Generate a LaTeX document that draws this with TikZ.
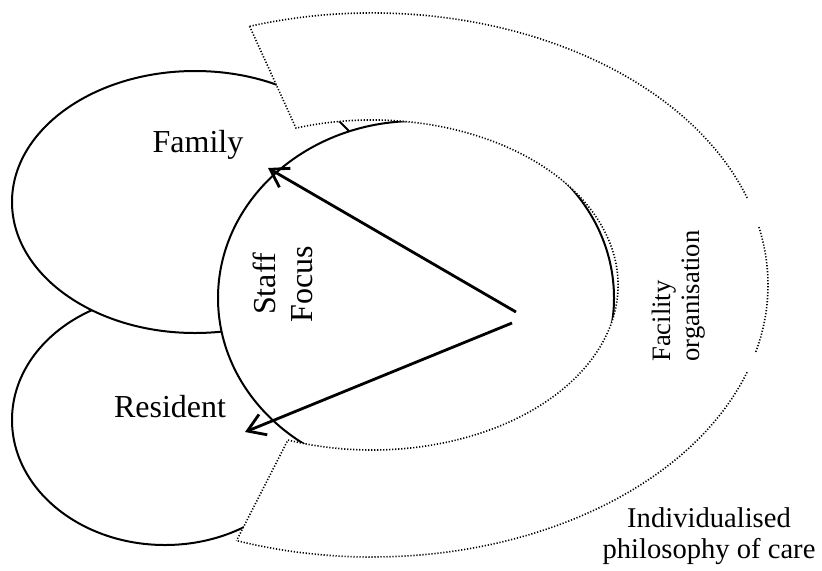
\documentclass[tikz,border=0pt]{standalone}
\usepackage{fontspec}
\setmainfont{Liberation Serif}
\usetikzlibrary{arrows.meta}

\begin{document}
\begin{tikzpicture}[x=0.5pt, y=0.5pt,
    blob/.style={draw=black, fill=white, line width=1pt},
    rim/.style={line width=0.8pt, dash pattern=on 0.6pt off 0.9pt},
    pointer/.style={line width=1.4pt, -{Straight Barb[length=8.5pt, width=11pt]}},
    lbl/.style={font=\fontsize{16}{18.3}\selectfont, inner sep=0pt}]
    \useasboundingbox (0,0) rectangle (822,570);
    % the three circles
    \draw[blob] (165,150) ellipse [x radius=153, y radius=125];
    \draw[blob] (195,368) ellipse [x radius=183, y radius=131];
    \draw[blob] (416,272) ellipse [x radius=198, y radius=177];
    % facility band round the staff
    \begin{scope}[shift={(372,285)}]
        \fill[white] (108:396 and 272) arc[start angle=108, end angle=-110, x radius=396, y radius=272]
            -- (-110:246 and 165) arc[start angle=-110, end angle=108, x radius=246, y radius=165] -- cycle;
        \draw[rim] (108:396 and 272) -- (108:246 and 165)
            arc[start angle=108, end angle=-110, x radius=246, y radius=165] -- (-110:396 and 272);
        \draw[rim] (108:396 and 272) arc[start angle=108, end angle=18.5, x radius=396, y radius=272];
        \draw[rim] (12.3:396 and 272) arc[start angle=12.3, end angle=-14.5, x radius=396, y radius=272];
        \draw[rim] (-18.7:396 and 272) arc[start angle=-18.7, end angle=-110, x radius=396, y radius=272];
    \end{scope}
    % focus arrows
    \coordinate (hubF) at (516,258);
    \coordinate (hubR) at (512,247);
    \coordinate (famtip) at (268,402);
    \coordinate (restip) at (245,138);
    \draw[pointer] (hubF) -- (famtip);
    \draw[pointer] (hubR) -- (restip);
    % labels
    \node[lbl, anchor=base] (family) at (198,418) {Family};
    \node[lbl, anchor=base] (resident) at (170,153) {Resident};
    \node[lbl, rotate=90, align=center] (staff) at (283,286) {Staff\\Focus};
    \node[lbl, font=\fontsize{13.3}{14.6}\selectfont, rotate=90, anchor=west, align=left] (facility) at (679,208) {Facility\\organisation};
    \node[lbl, font=\fontsize{14.3}{15.8}\selectfont, align=center] (philosophy) at (709,34) {Individualised\\philosophy of care};
\end{tikzpicture}
\end{document}
